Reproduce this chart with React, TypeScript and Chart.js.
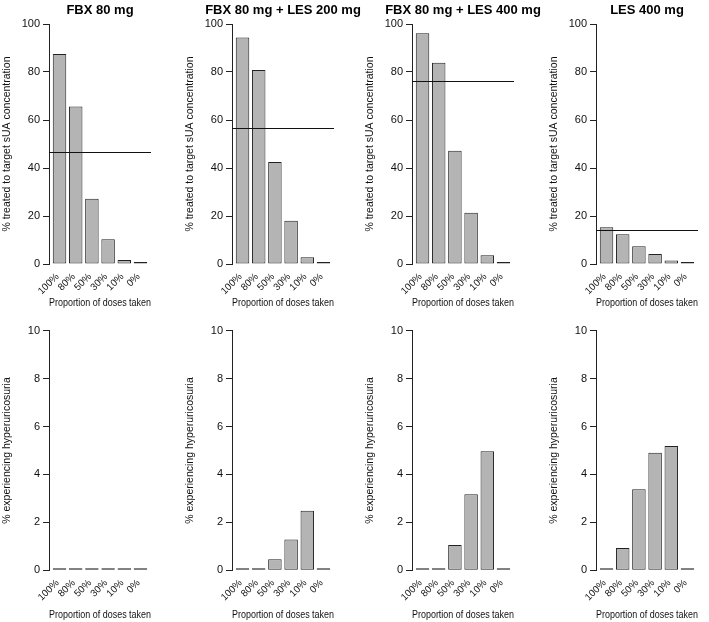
import React, { useEffect, useRef } from "react";
import { Chart, registerables } from "chart.js";
Chart.register(...registerables);

const doseLabels = ["100%", "80%", "50%", "30%", "10%", "0%"];
const panelTitles = ["FBX 80 mg", "FBX 80 mg + LES 200 mg", "FBX 80 mg + LES 400 mg", "LES 400 mg"];

const targetFbx80 = [87.5, 65.6, 27.2, 10.3, 1.7, 0];
const targetFbx80Les200 = [94.4, 80.8, 42.5, 18.0, 2.8, 0];
const targetFbx80Les400 = [96.1, 83.9, 47.2, 21.4, 3.6, 0];
const targetLes400 = [15.3, 12.4, 7.4, 4.2, 1.5, 0];
const targetOverall = [46.7, 56.8, 76.2, 14.0];

const hyperFbx80 = [0, 0, 0, 0, 0, 0];
const hyperFbx80Les200 = [0, 0, 0.46, 1.29, 2.49, 0];
const hyperFbx80Les400 = [0, 0.04, 1.06, 3.17, 4.97, 0];
const hyperLes400 = [0, 0.93, 3.38, 4.91, 5.19, 0];

const yTitleTop = "% treated to target sUA concentration";
const yTitleBottom = "% experiencing hyperuricosuria";
const xTitle = "Proportion of doses taken";

const FONT = "'Liberation Sans', Arial, Helvetica, sans-serif";

// R barplot geometry: width 1, space 0.2, 4% axis extension
const barCenter = (i: number) => 0.7 + 1.2 * i;
const X_MIN = -0.08;
const X_MAX = 7.48;

const refLinePlugin = {
  id: "refLine",
  afterDatasetsDraw(chart: any) {
    const v = chart.options.plugins.refLine?.value;
    if (v === undefined || v === null) return;
    const { ctx, chartArea } = chart;
    const y = Math.round(chart.scales.y.getPixelForValue(v)) + 0.5;
    ctx.save();
    ctx.strokeStyle = "#111";
    ctx.lineWidth = 1;
    ctx.beginPath();
    ctx.moveTo(chartArea.left, y);
    ctx.lineTo(chartArea.right, y);
    ctx.stroke();
    ctx.restore();
  },
};

const panelTitlePlugin = {
  id: "panelTitle",
  afterDraw(chart: any) {
    const t = chart.options.plugins.panelTitle?.text;
    if (!t) return;
    const { ctx, chartArea } = chart;
    ctx.save();
    ctx.font = `bold 13px ${FONT}`;
    ctx.fillStyle = "#000";
    ctx.textAlign = "center";
    ctx.textBaseline = "middle";
    ctx.fillText(t, (chartArea.left + chartArea.right) / 2, chart.options.plugins.panelTitle.y);
    ctx.restore();
  },
};

type PanelProps = {
  left: number;
  top: number;
  row: number;
  title: string;
  values: number[];
  line?: number;
  yMax: number;
  yStep: number;
  yTitle: string;
};

const CANVAS_W = 186;
const CANVAS_H = 311;
const Y_AXIS_W = 49;
const PLOT_W = 102;

function Panel({ left, top, row, title, values, line, yMax, yStep, yTitle }: PanelProps) {
  const ref = useRef<HTMLCanvasElement>(null);
  useEffect(() => {
    if (!ref.current) return;
    const chartTop = row === 0 ? 24 : 19.7;
    const chartBottom = row === 0 ? 264 : 259.3;
    const xScaleH = CANVAS_H - chartBottom;
    const chart = new Chart(ref.current, {
      type: "bar",
      data: {
        datasets: [
          {
            data: values.map((v, i) => ({ x: barCenter(i), y: v })),
            backgroundColor: "#b4b4b4",
            borderColor: "#222",
            borderWidth: 1,
            borderSkipped: false,
            minBarLength: 2,
            categoryPercentage: 1,
            barPercentage: 1 / 1.2,
          } as any,
        ],
      },
      options: {
        animation: false,
        responsive: false,
        devicePixelRatio: 1,
        layout: {
          padding: { top: chartTop, right: CANVAS_W - Y_AXIS_W - PLOT_W, bottom: 0, left: 0 },
        },
        plugins: {
          legend: { display: false },
          tooltip: { enabled: false },
          title: { display: false },
          panelTitle: { text: row === 0 ? title : "", y: 10.5 },
          refLine: { value: line },
        } as any,
        scales: {
          x: {
            type: "linear",
            offset: false,
            min: X_MIN,
            max: X_MAX,
            afterBuildTicks: (scale: any) => {
              scale.ticks = doseLabels.map((_, i) => ({ value: barCenter(i) }));
            },
            afterFit: (scale: any) => {
              scale.height = xScaleH;
              scale.paddingLeft = 0;
              scale.paddingRight = 0;
            },
            grid: { display: false, drawTicks: false, offset: false },
            border: { display: false },
            ticks: {
              autoSkip: false,
              minRotation: 45,
              maxRotation: 45,
              padding: 7,
              labelOffset: -2,
              color: "#111",
              font: { family: FONT, size: 9.8 },
              callback: (_v: any, i: number) => doseLabels[i],
            },
            title: {
              display: true,
              text: xTitle,
              color: "#111",
              font: { family: FONT, size: 11 },
              padding: { top: 0, bottom: row === 0 ? 1.4 : 0.4 },
            },
          },
          y: {
            min: 0,
            max: yMax,
            afterFit: (scale: any) => {
              scale.width = Y_AXIS_W;
            },
            ticks: {
              stepSize: yStep,
              padding: 3,
              color: "#111",
              font: { family: FONT, size: 11 },
            },
            grid: {
              display: true,
              drawOnChartArea: false,
              drawTicks: true,
              tickLength: 6,
              tickColor: "#222",
              tickWidth: 1,
            },
            border: { display: true, color: "#222", width: 1 },
            title: {
              display: true,
              text: yTitle,
              color: "#111",
              font: { family: FONT, size: 10.5 },
              padding: { top: 1.2, bottom: 0 },
            },
          },
        },
      },
      plugins: [refLinePlugin, panelTitlePlugin],
    } as any);
    return () => chart.destroy();
  }, [row, title, values, line, yMax, yStep, yTitle]);
  return (
    <canvas
      ref={ref}
      width={CANVAS_W}
      height={CANVAS_H}
      style={{ position: "absolute", left, top, width: CANVAS_W, height: CANVAS_H }}
    />
  );
}

const colLefts = [0, 183, 363, 547];
const topValues = [targetFbx80, targetFbx80Les200, targetFbx80Les400, targetLes400];
const bottomValues = [hyperFbx80, hyperFbx80Les200, hyperFbx80Les400, hyperLes400];

export default function App() {
  return (
    <div
      style={{
        position: "absolute",
        left: 0,
        top: 0,
        width: 709,
        height: 622,
        background: "#fff",
        overflow: "hidden",
      }}
    >
      {colLefts.map((l, c) => (
        <Panel
          key={"t" + c}
          left={l}
          top={0}
          row={0}
          title={panelTitles[c]}
          values={topValues[c]}
          line={targetOverall[c]}
          yMax={100}
          yStep={20}
          yTitle={yTitleTop}
        />
      ))}
      {colLefts.map((l, c) => (
        <Panel
          key={"b" + c}
          left={l}
          top={311}
          row={1}
          title={panelTitles[c]}
          values={bottomValues[c]}
          yMax={10}
          yStep={2}
          yTitle={yTitleBottom}
        />
      ))}
    </div>
  );
}
